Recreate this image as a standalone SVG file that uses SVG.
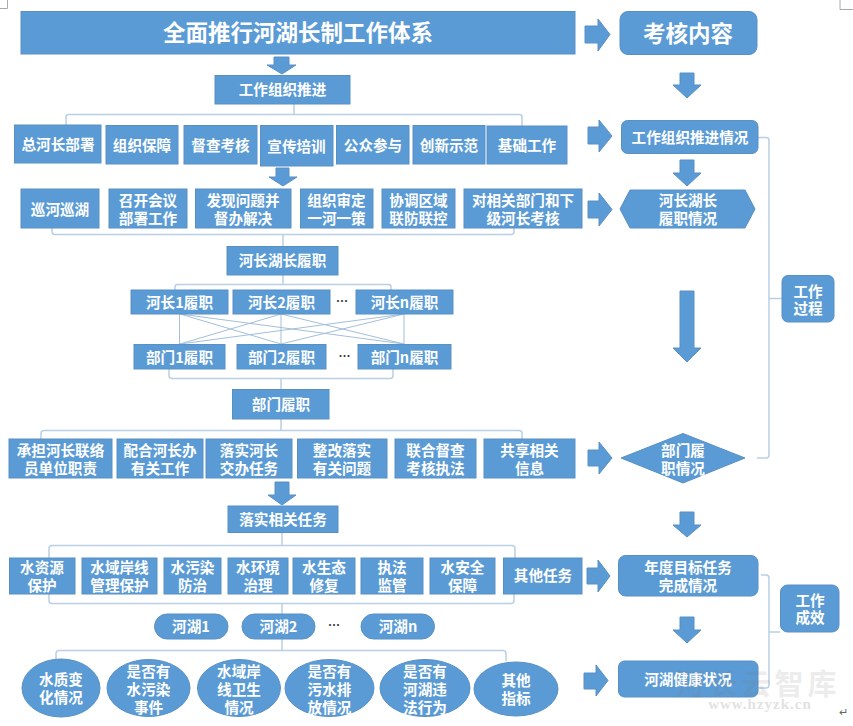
<svg xmlns="http://www.w3.org/2000/svg" width="853" height="726" viewBox="0 0 853 726">
<style>
text{font-family:"Noto Sans CJK SC","Noto Sans",sans-serif;font-weight:700;fill:#fff;text-anchor:middle;dominant-baseline:central;font-size:14.600px;transform:translateY(-3px)}
.n rect,.n polygon,.n ellipse,.a polygon{fill:#5b9bd5;stroke:#5890c4;stroke-width:1}
.c path{fill:none;stroke:#b9cfe3;stroke-width:1.500}
.x path{fill:none;stroke:#a3bfd9;stroke-width:1}
.t22{font-size:22.500px}
.d{fill:#333;font-size:12px}
.w{fill:#777;opacity:.13;font-size:29px;letter-spacing:4px}
.u{fill:#e2e2e2;font-size:15px;letter-spacing:1px;font-family:"Liberation Serif",serif}
</style>
<rect width="853" height="726" fill="#fff"/>
<path d="M0 8.500H7.500V0M853 9.500H840V0" fill="none" stroke="#aaa"/>
<g id="connectors" class="c">
<path d="M294 104V114.500M66 125V117Q66 114.500 68.500 114.500H519.500Q522 114.500 522 117V126"/>
<path d="M52 228V231.500Q52 234.500 55 234.500H511Q514 234.500 514 231.500V228M283 234.500V246"/>
<path d="M283 275V284.500M175 290V287Q175 284.500 177.500 284.500H388.500Q391 284.500 391 287V290"/>
<path d="M169 369V375.500Q169 378.500 172 378.500H390Q393 378.500 393 375.500V369M281 378.500V389.500"/>
<path d="M281 419V430.500M41 439V433.500Q41 430.500 44 430.500H519Q522 430.500 522 433.500V439"/>
<path d="M282 532.500V545.500M49 558V548.500Q49 545.500 52 545.500H512Q515 545.500 515 548.500V558"/>
<path d="M49 594V600.500Q49 603.500 52 603.500H511Q514 603.500 514 600.500V594M282 603.500V614"/>
<path d="M282 639V650.500M56 660V653.500Q56 650.500 59 650.500H503Q506 650.500 506 653.500V661"/>
<path d="M758 137.500H766Q769 137.500 769 140.500V455Q769 458 766 458H757M769 298.500H782"/>
<path d="M761 575H766Q769 575 769 578V685Q769 688 766 688H758M769 632H780"/>
<g class="x">
<path d="M179.500 314V344M281 314V344M404 314V344M180 314L281 344M180 314L404 344M281 314L180 344M281 314L404 344M404 314L180 344M404 314L281 344"/>
</g>
</g>
<g class="a">
<polygon points="274,57 289,57 289,65 296,65 282,74 267,65 274,65"/>
<polygon points="276,168 289,168 289,177 297,177 283,186 269,177 276,177"/>
<polygon points="275,482 289,482 289,495 296,495 282,505 268,495 275,495"/>
<polygon points="585,26 598,26 598,19 610,34.500 598,51 598,43 585,43"/>
<polygon points="680,73 694,73 694,85 701,85 687,98 673,85 680,85"/>
<polygon points="588,127 599,127 599,120 612,136 599,152 599,144 588,144"/>
<polygon points="680,160 694,160 694,173 701,173 687,186 673,173 680,173"/>
<polygon points="588,201 599,201 599,193 612,209.500 599,226 599,218 588,218"/>
<polygon points="680,291 694,291 694,348 701,348 687,362 673,348 680,348"/>
<polygon points="588,450 599,450 599,442 612,458 599,474 599,466 588,466"/>
<polygon points="680,512 694,512 694,525 701,525 687,537 673,525 680,525"/>
<polygon points="587,568 598,568 598,560 610,576 598,592 598,584 587,584"/>
<polygon points="680,617 694,617 694,630 701,630 687,643 673,630 680,630"/>
<polygon points="584,673 596,673 596,665 608,680.500 596,696 596,689 584,689"/>
</g>
<g id="title" class="n"><rect x="21" y="11.500" width="554" height="42.500"/><text class="t22" x="298" y="34">全面推行河湖长制工作体系</text></g>
<g id="kaohe" class="n"><rect x="620" y="11.500" width="137" height="43" rx="8"/><text class="t22" x="688" y="35">考核内容</text></g>
<g id="gzzz" class="n"><rect x="215" y="75.500" width="135" height="28.500"/><text x="282.500" y="91">工作组织推进</text></g>
<g id="r1a" class="n"><rect x="14.500" y="125" width="86.500" height="38"/><text x="58" y="146">总河长部署</text></g>
<g id="r1b" class="n"><rect x="106" y="125.500" width="72" height="38.500"/><text x="142" y="147">组织保障</text></g>
<g id="r1c" class="n"><rect x="184" y="125.500" width="73" height="38.500"/><text x="220.500" y="147">督查考核</text></g>
<g id="r1d" class="n"><rect x="260.500" y="125.500" width="72.500" height="40.500"/><text x="296.500" y="148">宣传培训</text></g>
<g id="r1e" class="n"><rect x="336.500" y="125.500" width="72.500" height="38.500"/><text x="373" y="147">公众参与</text></g>
<g id="r1f" class="n"><rect x="413" y="125.500" width="72" height="38.500"/><text x="449" y="147">创新示范</text></g>
<g id="r1g" class="n"><rect x="487" y="126" width="80" height="38"/><text x="527" y="147">基础工作</text></g>
<g id="r2a" class="n"><rect x="21" y="189" width="78" height="39"/><text x="60" y="211">巡河巡湖</text></g>
<g id="r2b" class="n"><rect x="109" y="189" width="78" height="39"/><text><tspan x="148" y="202">召开会议</tspan><tspan x="148" y="220">部署工作</tspan></text></g>
<g id="r2c" class="n"><rect x="195.500" y="189" width="95.500" height="39"/><text><tspan x="243" y="202">发现问题并</tspan><tspan x="243" y="220">督办解决</tspan></text></g>
<g id="r2d" class="n"><rect x="300.500" y="189" width="72.500" height="39"/><text><tspan x="336.500" y="202">组织审定</tspan><tspan x="336.500" y="220">一河一策</tspan></text></g>
<g id="r2e" class="n"><rect x="382" y="189" width="73" height="39"/><text><tspan x="418.500" y="202">协调区域</tspan><tspan x="418.500" y="220">联防联控</tspan></text></g>
<g id="r2f" class="n"><rect x="464" y="189" width="118" height="39"/><text><tspan x="523" y="202">对相关部门和下</tspan><tspan x="523" y="220">级河长考核</tspan></text></g>
<g id="gzzzqk" class="n"><rect x="621.500" y="120.500" width="136.500" height="33" rx="6"/><text x="690" y="139">工作组织推进情况</text></g>
<g id="hzlz" class="n"><polygon points="630,190 745,190 755,209 745,228 630,228 620,209"/><text><tspan x="688" y="202">河长湖长</tspan><tspan x="688" y="220">履职情况</tspan></text></g>
<g id="gzgc" class="n"><rect x="782" y="275.500" width="52" height="46.500" rx="6"/><text><tspan x="808" y="293">工作</tspan><tspan x="808" y="310">过程</tspan></text></g>
<g id="hzhzlz" class="n"><rect x="227" y="246.500" width="111" height="28.500"/><text x="282.500" y="262">河长湖长履职</text></g>
<g id="hz1" class="n"><rect x="131" y="290" width="97" height="24"/><text x="179.500" y="304">河长1履职</text></g>
<g id="hz2" class="n"><rect x="233" y="290" width="97" height="24"/><text x="281.500" y="304">河长2履职</text></g>
<text class="d" x="342" y="303">…</text>
<g id="hzn" class="n"><rect x="356" y="290" width="97" height="24"/><text x="404.500" y="304">河长n履职</text></g>
<g id="bm1" class="n"><rect x="134" y="344.500" width="91" height="24.500"/><text x="179.500" y="359">部门1履职</text></g>
<g id="bm2" class="n"><rect x="237" y="344.500" width="89" height="24.500"/><text x="281.500" y="359">部门2履职</text></g>
<text class="d" x="344.500" y="358">…</text>
<g id="bmn" class="n"><rect x="358" y="344.500" width="93" height="24.500"/><text x="404.500" y="359">部门n履职</text></g>
<g id="bmlz" class="n"><rect x="232.500" y="389.500" width="96.500" height="29.500"/><text x="281" y="406">部门履职</text></g>
<g id="r3a" class="n"><rect x="9" y="439" width="103" height="39"/><text><tspan x="60.500" y="452">承担河长联络</tspan><tspan x="60.500" y="470">员单位职责</tspan></text></g>
<g id="r3b" class="n"><rect x="117" y="439" width="86" height="39"/><text><tspan x="160" y="452">配合河长办</tspan><tspan x="160" y="470">有关工作</tspan></text></g>
<g id="r3c" class="n"><rect x="206" y="439" width="86" height="39"/><text><tspan x="249" y="452">落实河长</tspan><tspan x="249" y="470">交办任务</tspan></text></g>
<g id="r3d" class="n"><rect x="297.500" y="439" width="89.500" height="39"/><text><tspan x="342" y="452">整改落实</tspan><tspan x="342" y="470">有关问题</tspan></text></g>
<g id="r3e" class="n"><rect x="395" y="439" width="81" height="39"/><text><tspan x="435.500" y="452">联合督查</tspan><tspan x="435.500" y="470">考核执法</tspan></text></g>
<g id="r3f" class="n"><rect x="484" y="439" width="91" height="39"/><text><tspan x="529.500" y="452">共享相关</tspan><tspan x="529.500" y="470">信息</tspan></text></g>
<g id="bmqk" class="n"><polygon points="683,433.500 745,458 683,483 621,458"/><text><tspan x="683" y="452">部门履</tspan><tspan x="683" y="470">职情况</tspan></text></g>
<g id="lsrw" class="n"><rect x="228" y="506" width="110" height="26.500"/><text x="283" y="521">落实相关任务</text></g>
<g id="r4a" class="n"><rect x="9.500" y="558" width="65.500" height="36"/><text><tspan x="42" y="569">水资源</tspan><tspan x="42" y="587">保护</tspan></text></g>
<g id="r4b" class="n"><rect x="82" y="558" width="75" height="36"/><text><tspan x="119.500" y="569">水域岸线</tspan><tspan x="119.500" y="587">管理保护</tspan></text></g>
<g id="r4c" class="n"><rect x="164" y="558" width="57" height="36"/><text><tspan x="192.500" y="569">水污染</tspan><tspan x="192.500" y="587">防治</tspan></text></g>
<g id="r4d" class="n"><rect x="228" y="558" width="60" height="36"/><text><tspan x="258" y="569">水环境</tspan><tspan x="258" y="587">治理</tspan></text></g>
<g id="r4e" class="n"><rect x="293" y="558" width="62" height="36"/><text><tspan x="324" y="569">水生态</tspan><tspan x="324" y="587">修复</tspan></text></g>
<g id="r4f" class="n"><rect x="361" y="558" width="62" height="36"/><text><tspan x="392" y="569">执法</tspan><tspan x="392" y="587">监管</tspan></text></g>
<g id="r4g" class="n"><rect x="430" y="558" width="65" height="36"/><text><tspan x="462.500" y="569">水安全</tspan><tspan x="462.500" y="587">保障</tspan></text></g>
<g id="r4h" class="n"><rect x="503.500" y="558" width="78.500" height="36"/><text x="543" y="577">其他任务</text></g>
<g id="ndmb" class="n"><rect x="618.500" y="555.500" width="139.500" height="40.500" rx="7"/><text><tspan x="688" y="569">年度目标任务</tspan><tspan x="688" y="587">完成情况</tspan></text></g>
<g id="gzcx" class="n"><rect x="780.500" y="585" width="58.500" height="47" rx="7"/><text><tspan x="810" y="602">工作</tspan><tspan x="810" y="619">成效</tspan></text></g>
<g id="hh1" class="n"><rect x="154.500" y="614" width="73.500" height="25" rx="12.500"/><text x="191" y="628">河湖1</text></g>
<g id="hh2" class="n"><rect x="242" y="614" width="73" height="25" rx="12.500"/><text x="278.500" y="628">河湖2</text></g>
<text class="d" x="334" y="627">…</text>
<g id="hhn" class="n"><rect x="361" y="614" width="73.500" height="25" rx="12.500"/><text x="398" y="628">河湖n</text></g>
<g id="e1" class="n"><ellipse cx="61" cy="688" rx="39" ry="29"/><text><tspan x="61" y="681">水质变</tspan><tspan x="61" y="699">化情况</tspan></text></g>
<g id="e2" class="n"><ellipse cx="148.500" cy="688" rx="41.500" ry="28.500"/><text><tspan x="148.500" y="673">是否有</tspan><tspan x="148.500" y="691">水污染</tspan><tspan x="148.500" y="709">事件</tspan></text></g>
<g id="e3" class="n"><ellipse cx="239" cy="688" rx="41.500" ry="28.500"/><text><tspan x="239" y="673">水域岸</tspan><tspan x="239" y="691">线卫生</tspan><tspan x="239" y="709">情况</tspan></text></g>
<g id="e4" class="n"><ellipse cx="329.500" cy="688" rx="44.500" ry="28.500"/><text><tspan x="329.500" y="673">是否有</tspan><tspan x="329.500" y="691">污水排</tspan><tspan x="329.500" y="709">放情况</tspan></text></g>
<g id="e5" class="n"><ellipse cx="425" cy="688" rx="45" ry="28.500"/><text><tspan x="425" y="673">是否有</tspan><tspan x="425" y="691">河湖违</tspan><tspan x="425" y="709">法行为</tspan></text></g>
<g id="e6" class="n"><ellipse cx="516" cy="689" rx="42" ry="27"/><text><tspan x="516" y="682">其他</tspan><tspan x="516" y="700">指标</tspan></text></g>
<g id="hhjk" class="n"><rect x="618.500" y="661" width="139.500" height="36" rx="6"/><text x="688" y="681">河湖健康状况</text></g>
<text class="w" x="758" y="685">河长云智库</text>
<text class="u" x="760" y="707">www.hzyzk.cn</text>
<text x="843" y="714" style="fill:#666;font-size:11px;font-weight:400">↵</text>
</svg>
